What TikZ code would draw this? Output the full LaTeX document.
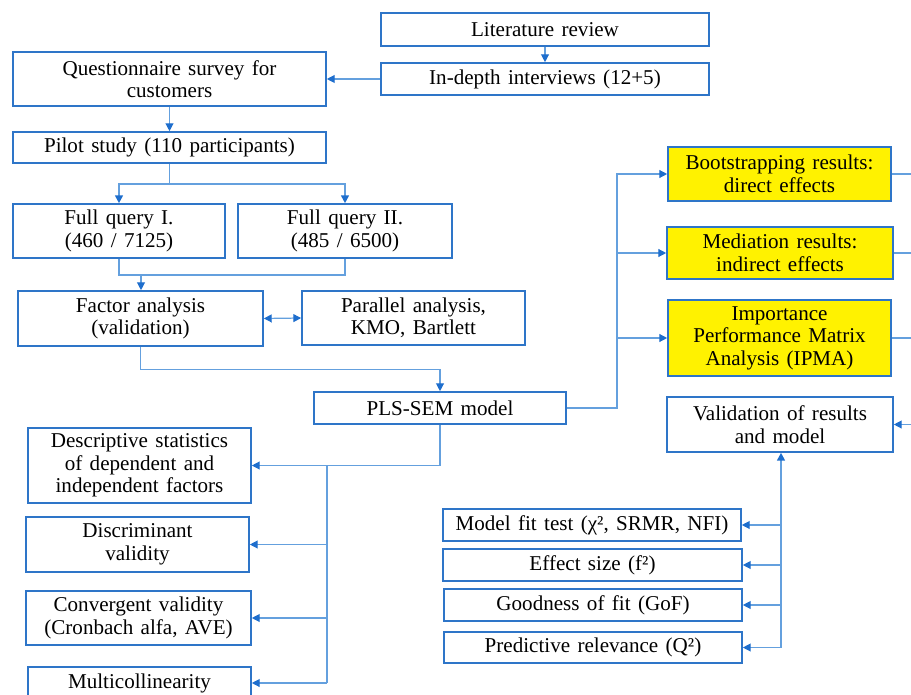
\documentclass[tikz,border=0pt]{standalone}
\usepackage{fontspec}
\setmainfont[WordSpace=1.4]{Liberation Serif}
\usetikzlibrary{arrows.meta}
\definecolor{boxblue}{RGB}{46,117,200}
\definecolor{lineblue}{RGB}{100,160,222}
\definecolor{tipblue}{RGB}{30,110,205}
\def\pxu{0.02cm}

\begin{document}
\begin{tikzpicture}[x=\pxu, y=-\pxu,
   box/.style={draw=boxblue, line width=0.9pt, align=center, inner sep=0pt,
     font=\fontsize{12}{12.8}\selectfont},
   ybox/.style={box, fill=yellow},
   sz/.style 2 args={minimum width=#1*\pxu, minimum height=#2*\pxu},
   line/.style={draw=lineblue, line width=0.7pt},
   arr/.style={line, -{Triangle[length=4.5pt,width=4.5pt,color=tipblue]}},
   darr/.style={line, {Triangle[length=4.5pt,width=4.5pt,color=tipblue]}-{Triangle[length=4.5pt,width=4.5pt,color=tipblue]}}]

   \useasboundingbox (0,0) rectangle (911,695);
   \clip (0,0) rectangle (911,695);

   % left column
   \node[box, sz={328}{33}] (lit) at (545,29.5) {Literature review};
   \node[box, sz={328}{32}] (interv) at (545,79) {In-depth interviews (12+5)};
   \node[box, sz={313}{54}] (quest) at (169.5,79) {Questionnaire survey for\\customers};
   \node[box, sz={313}{31}] (pilot) at (169.5,147.5) {Pilot study (110 participants)};
   \node[box, sz={212}{54}] (fq1) at (119,231) {Full query I.\\(460 / 7125)};
   \node[box, sz={214}{54}] (fq2) at (345,231) {Full query II.\\(485 / 6500)};
   \node[box, sz={245}{55}] (factor) at (140.5,318.5) {Factor analysis\\(validation)};
   \node[box, sz={223}{54}] (parallel) at (413.5,318) {Parallel analysis,\\KMO, Bartlett};
   \node[box, sz={252}{32}] (pls) at (440,408) {PLS-SEM model};
   \node[box, sz={223}{75}] (desc) at (139.5,465.5) {Descriptive statistics\\of dependent and\\independent factors};
   \node[box, sz={223}{55}] (discr) at (137.5,544.5) {Discriminant\\validity};
   \node[box, sz={225}{54}] (conv) at (138.5,618) {Convergent validity\\(Cronbach alfa, AVE)};
   \node[box, sz={223}{32}] (multi) at (139.5,683) {Multicollinearity};

   % right column
   \node[ybox, sz={223}{54}] (boot) at (779.5,174) {Bootstrapping results:\\direct effects};
   \node[ybox, sz={226}{52}] (med) at (780,253) {Mediation results:\\indirect effects};
   \node[ybox, sz={223}{76}] (ipma) at (779.5,338) {Importance\\Performance Matrix\\Analysis (IPMA)};
   \node[box, sz={226}{55}] (valid) at (780,424.5) {Validation of results\\and model};
   \node[box, sz={298}{32}] (fit) at (592,525) {Model fit test (χ², SRMR, NFI)};
   \node[box, sz={299}{32}] (eff) at (592.5,565) {Effect size (f²)};
   \node[box, sz={298}{32}] (gof) at (593,605) {Goodness of fit (GoF)};
   \node[box, sz={298}{31}] (pred) at (593,647.5) {Predictive relevance (Q²)};

   % top part
   \draw[arr] (lit) -- (interv);
   \draw[arr] (interv) -- (quest);
   \draw[arr] (quest) -- (pilot);
   \draw[arr, line width=1pt] (pilot.south) -- ++(0,20) -| (fq1.north);
   \draw[arr, line width=1pt] (pilot.south) -- ++(0,20) -| (fq2.north);
   \coordinate (fqjoin) at (141,275);
   \draw[line] (fq1.south) |- (fqjoin) -| (fq2.south);
   \draw[arr] (fqjoin) -- (fqjoin |- factor.north);
   \draw[darr] (factor.east) -- (parallel.west);
   \draw[arr] (factor.south) -- ++(0,23) -| (pls.north);

   % PLS-SEM to the left boxes
   \coordinate (ltrunk) at (327,465.5);
   \draw[arr] (pls.south) |- (desc.east);
   \draw[line] (ltrunk) -- (ltrunk |- multi.east);
   \foreach \b in {discr,conv,multi}
      \draw[arr] (ltrunk |- \b.east) -- (\b.east);

   % PLS-SEM to the results
   \coordinate (rtrunk) at (617,408);
   \draw[arr] (pls.east) -- (rtrunk) |- (boot.west);
   \foreach \b in {med,ipma}
      \draw[arr] (rtrunk |- \b.west) -- (\b.west);
   \foreach \b in {boot,med,ipma}{
      \coordinate (\b out) at ([xshift=40*\pxu]\b.east);
      \draw[line] (\b.east) -- (\b out);
   }
   \coordinate (validin) at ([xshift=40*\pxu]valid.east);
   \draw[arr] (validin) -- (valid.east);

   % tests to validation
   \coordinate (vtrunk) at (781,647.5);
   \draw[arr, line width=1pt] (vtrunk) -- (vtrunk |- valid.south);
   \foreach \b in {fit,eff,gof,pred}
      \draw[arr] (vtrunk |- \b.east) -- (\b.east);
\end{tikzpicture}
\end{document}
